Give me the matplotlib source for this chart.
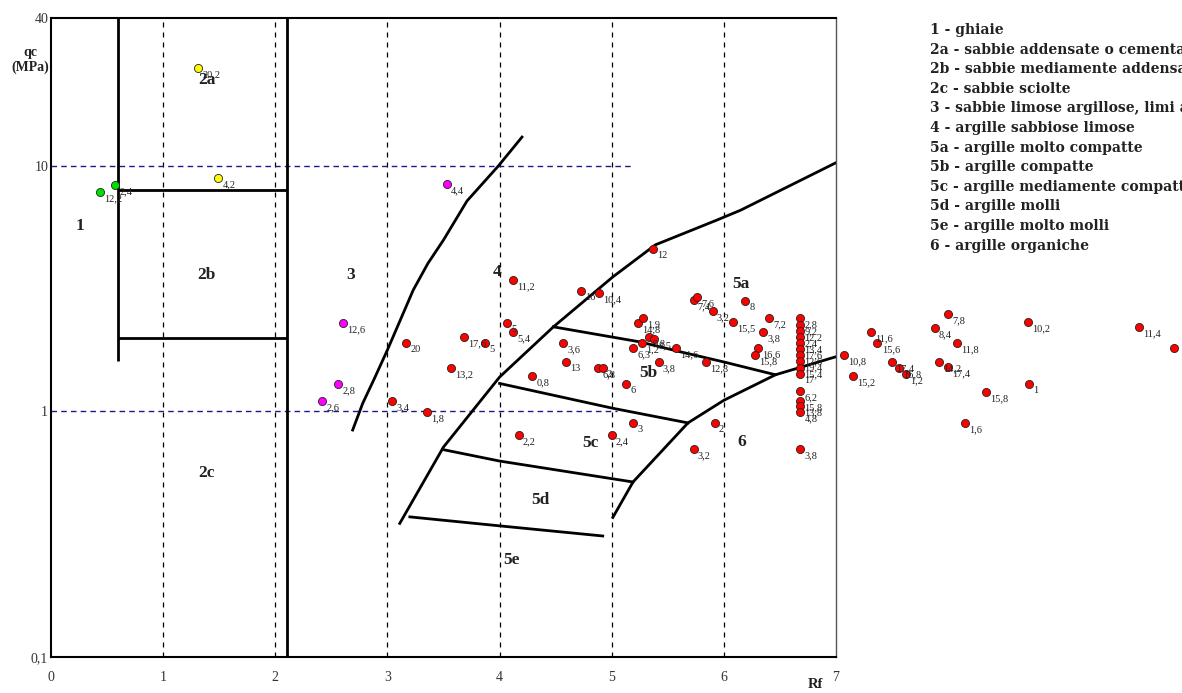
import matplotlib
matplotlib.use('Agg')
import matplotlib.pyplot as plt

plt.rcParams['font.family'] = ['Liberation Serif', 'DejaVu Serif']

# Prove CPT: Rf (%) e qc (MPa), con la sigla della prova
verdi_rf = [0.44, 0.57]
verdi_qc = [7.83, 8.36]
verdi_lab = ['12,2', '2,4']

gialli_rf = [1.31, 1.49]
gialli_qc = [25.0, 8.93]
gialli_lab = ['20,2', '4,2']

viola_rf = [3.53, 2.60, 2.56, 2.42]
viola_qc = [8.43, 2.29, 1.29, 1.10]
viola_lab = ['4,4', '12,6', '2,8', '2,6']

rossi_rf = [3.17, 3.68, 3.87, 3.57, 3.04, 3.35, 4.12, 4.07, 4.12, 4.57,
            4.59, 4.29, 4.88, 4.92, 5.13, 5.19, 4.17, 5.00, 4.89, 4.73,
            5.23, 5.28, 5.33, 5.38, 5.27, 5.19, 5.57, 5.42, 5.84, 5.37,
            5.73, 5.76, 5.90, 6.19, 6.08, 6.40, 6.35, 6.30, 6.28, 5.92,
            5.73, 6.68,
            6.68, 6.68, 6.68, 6.68, 6.68, 6.68, 6.68, 6.68, 6.68, 6.68,
            6.68, 6.68, 6.68, 6.68,
            7.07, 7.15, 7.31, 7.37, 7.50, 7.56, 7.62, 7.88, 8.00, 8.08,
            7.92, 8.00, 8.34, 8.15, 8.71, 8.72, 9.70, 10.01]
rossi_qc = [1.90, 2.01, 1.90, 1.50, 1.10, 0.995, 3.43, 2.29, 2.11, 1.90,
            1.59, 1.39, 1.50, 1.50, 1.29, 0.898, 0.80, 0.80, 3.03, 3.09,
            2.29, 2.40, 2.01, 1.97, 1.90, 1.81, 1.81, 1.59, 1.59, 4.59,
            2.84, 2.93, 2.56, 2.82, 2.31, 2.40, 2.11, 1.81, 1.70, 0.898,
            0.70, 0.70,
            2.40, 2.25, 2.13, 2.01, 1.90, 1.80, 1.70, 1.60, 1.50, 1.42,
            1.21, 1.10, 1.05, 0.995,
            1.70, 1.39, 2.11, 1.90, 1.59, 1.50, 1.42, 2.19, 2.49, 1.90,
            1.59, 1.52, 1.20, 0.898, 2.31, 1.29, 2.21, 1.81]
rossi_lab = ['20', '17,6', '5', '13,2', '3,4', '1,8', '11,2', '5', '5,4', '3,6',
             '13', '0,8', '6,8', '2', '6', '3', '2,2', '2,4', '10,4', '16',
             '14,8', '1,9', '9,8', '8,5', '1,2', '6,3', '14,6', '3,8', '12,8', '12',
             '7,4', '7,6', '3,2', '8', '15,5', '7,2', '3,8', '16,6', '15,8', '2',
             '3,2', '3,8',
             '2,8', '9,2', '12,2', '2,4', '13,4', '17,6', '12,6', '19,4', '15,4', '17',
             '6,2', '15,8', '13,8', '4,8',
             '10,8', '15,2', '11,6', '15,6', '17,4', '16,8', '1,2', '8,4', '7,8', '11,8',
             '14,2', '17,4', '15,8', '1,6', '10,2', '1', '11,4', '']

# Limiti delle zone di classificazione
lim_34_rf = [2.69, 2.78, 2.88, 3.0, 3.23, 3.36, 3.50, 3.71, 3.99, 4.20]
lim_34_qc = [0.84, 1.08, 1.35, 1.78, 3.12, 4.0, 4.99, 7.2, 10.0, 13.1]
lim_45_rf = [3.11, 3.50, 4.0, 4.48, 5.01, 5.39, 5.94, 6.15, 7.0]
lim_45_qc = [0.35, 0.716, 1.38, 2.21, 3.53, 4.77, 6.02, 6.6, 10.3]
lim_5ab_rf = [4.48, 5.25, 5.61, 6.0, 6.46, 7.0]
lim_5ab_qc = [2.21, 1.92, 1.75, 1.59, 1.41, 1.67]
lim_5bc_rf = [4.0, 5.01, 5.68]
lim_5bc_qc = [1.30, 1.03, 0.898]
lim_5cd_rf = [3.49, 4.0, 5.19]
lim_5cd_qc = [0.70, 0.628, 0.516]
lim_5de_rf = [3.20, 4.0, 4.92]
lim_5de_qc = [0.372, 0.342, 0.311]
lim_6_rf = [5.01, 5.19, 5.68, 6.0, 6.46]
lim_6_qc = [0.37, 0.516, 0.898, 1.11, 1.41]

zone = ['1', '2a', '2b', '2c', '3', '4', '5a', '5b', '5c', '5d', '5e', '6']
zone_rf = [0.26, 1.39, 1.39, 1.39, 2.67, 3.98, 6.15, 5.33, 4.81, 4.36, 4.11, 6.16]
zone_qc = [5.7, 22.4, 3.6, 0.56, 3.6, 3.7, 3.3, 1.44, 0.745, 0.436, 0.248, 0.75]

legenda = ['1 - ghiaie',
           '2a - sabbie addensate o cementate',
           '2b - sabbie mediamente addensate',
           '2c - sabbie sciolte',
           '3 - sabbie limose argillose, limi argillosi',
           '4 - argille sabbiose limose',
           '5a - argille molto compatte',
           '5b - argille compatte',
           '5c - argille mediamente compatte',
           '5d - argille molli',
           '5e - argille molto molli',
           '6 - argille organiche']

fig = plt.figure(figsize=(11.82, 6.93), dpi=100)
ax = fig.add_axes([51 / 1182, 36 / 693, 785 / 1182, 639 / 693])
ax.set_yscale('log')
ax.set_xlim(0, 7)
ax.set_ylim(0.1, 40)

# griglia tratteggiata
for xv in range(1, 7):
    ax.plot([xv, xv], [0.1, 40], color='black', lw=0.9, ls=(0, (4, 4)))
ax.plot([0, 5.2], [10, 10], color='#1a1a8c', lw=1, ls=(0, (4, 3)))
ax.plot([0, 5.05], [1, 1], color='#1a1a8c', lw=1, ls=(0, (4, 3)))

# limiti zone 1 / 2
k = dict(color='black', lw=2, solid_capstyle='butt')
ax.plot([0.6, 0.6], [1.6, 40], **k)
ax.plot([2.1, 2.1], [0.1, 40], **k)
ax.plot([0.6, 2.1], [8, 8], **k)
ax.plot([0.6, 2.1], [2, 2], **k)

for rf, qc in [(lim_34_rf, lim_34_qc), (lim_45_rf, lim_45_qc), (lim_5ab_rf, lim_5ab_qc),
               (lim_5bc_rf, lim_5bc_qc), (lim_5cd_rf, lim_5cd_qc), (lim_5de_rf, lim_5de_qc),
               (lim_6_rf, lim_6_qc)]:
    ax.plot(rf, qc, color='black', lw=2)

for t, x, y in zip(zone, zone_rf, zone_qc):
    ax.text(x, y, t, fontsize=12.5, fontweight='bold', ha='center', va='center', color='#222')


def punti(rf, qc, lab, col):
    ax.scatter(rf, qc, s=34, color=col, edgecolor='#222', linewidth=0.6,
               zorder=5, clip_on=False)
    for x, y, t in zip(rf, qc, lab):
        ax.annotate(t, (x, y), xytext=(3, -1.5), textcoords='offset points',
                    ha='left', va='top', fontsize=7.5, color='#222',
                    annotation_clip=False, zorder=6)


punti(verdi_rf, verdi_qc, verdi_lab, '#00e000')
punti(gialli_rf, gialli_qc, gialli_lab, '#ffff00')
punti(viola_rf, viola_qc, viola_lab, '#ff00ff')
punti(rossi_rf, rossi_qc, rossi_lab, '#ff0000')

ax.set_xticks(range(0, 8))
ax.set_xticklabels([str(i) for i in range(0, 8)], fontsize=10, color='#333')
ax.set_yticks([0.1, 1, 10, 40])
ax.set_yticklabels(['0,1', '1', '10', '40'], fontsize=10, color='#333')
ax.yaxis.set_minor_locator(matplotlib.ticker.NullLocator())
ax.tick_params(axis='x', length=0, pad=10)
ax.tick_params(axis='y', length=0, pad=2)

for s in ['left', 'bottom', 'top']:
    ax.spines[s].set_linewidth(1.5)
ax.spines['right'].set_color('#555')
ax.spines['right'].set_linewidth(1)

fig.text(30 / 1182, 1 - 60 / 693, 'qc\n(MPa)', fontsize=10, fontweight='bold',
         ha='center', va='center', color='#222', linespacing=1.1)
fig.text(815 / 1182, 1 - 685 / 693, 'Rf', fontsize=10.5, fontweight='bold',
         ha='center', va='center', color='#222')

for i, t in enumerate(legenda):
    fig.text(930 / 1182, 1 - (30 + i * 19.6) / 693, t, fontsize=10,
             fontweight='bold', family='DejaVu Serif', ha='left', va='center',
             color='#222')

fig.savefig('out.png', dpi=100)
